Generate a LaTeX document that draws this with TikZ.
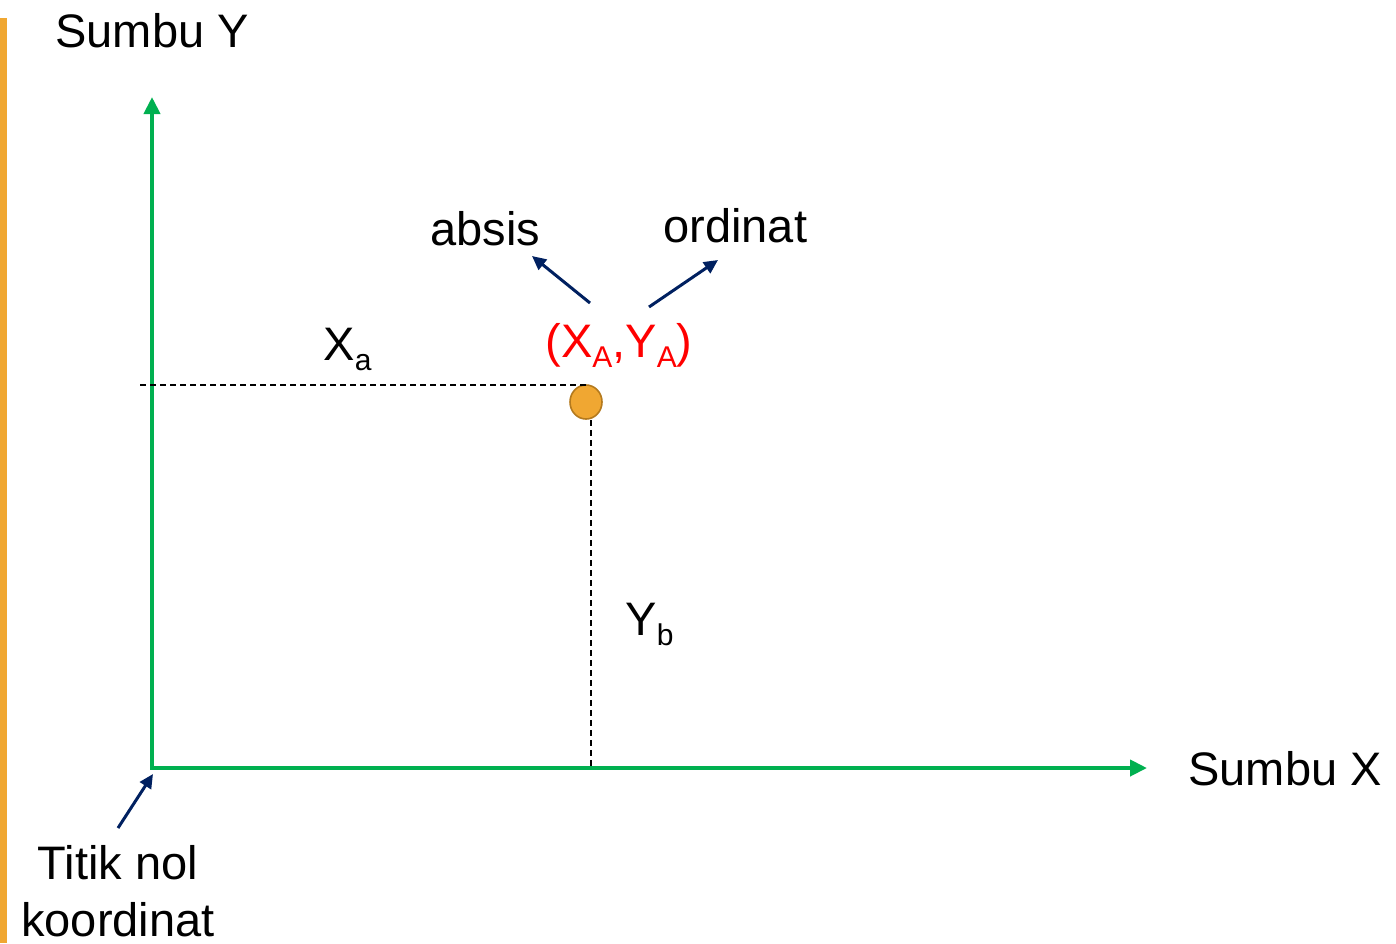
\documentclass[tikz,border=0pt]{standalone}
\usepackage{fontspec}
\setmainfont{Liberation Sans}
\usepackage{xcolor}
\usepackage{tikz}
\usetikzlibrary{arrows.meta,shapes.geometric}
\definecolor{axisgreen}{HTML}{00B050}
\definecolor{navy}{HTML}{002060}
\definecolor{barorange}{HTML}{F0A732}
\definecolor{dotedge}{HTML}{B47A1E}
\newcommand{\lowsub}[1]{\raisebox{-0.23em}{\fontsize{15}{15}\selectfont #1}}

\begin{document}
\begin{tikzpicture}[x=0.5pt,y=-0.5pt,
lbl/.style={inner sep=0,anchor=base west,font=\fontsize{23.5}{28.5}\selectfont},
axis/.style={axisgreen,line width=2pt,{Triangle[length=8.5pt,width=8pt]}-{Triangle[length=8.5pt,width=8pt]}},
pointer/.style={navy,line width=1.5pt,-{Triangle[length=7pt,width=6.5pt]}},
guide/.style={dash pattern=on 3pt off 2pt,line width=0.7pt}]
\useasboundingbox (0,0) rectangle (1396,943);
\fill[barorange](0,18)rectangle(7,943);
\coordinate (O) at (152,768);
\coordinate (Ytip) at (152,97);
\coordinate (Xtip) at (1147,768);
\draw[axis](Ytip)--(O)--(Xtip);
\node[lbl] (sumbuY) at (55,47) {Sumbu Y};
\node[lbl] (sumbuX) at (1188,785) {Sumbu X};
\node[lbl] (absis) at (430,245) {absis};
\node[lbl] (ordinat) at (663,242) {ordinat};
\node[lbl,red] (titikA) at (545,357) {(X\lowsub{A},Y\lowsub{A})};
\node[lbl] (Xa) at (323,360) {X\lowsub{a}};
\node[lbl] (Yb) at (625,635) {Y\lowsub{b}};
\node[inner sep=0,anchor=north,align=center,font=\fontsize{23.5}{28.5}\selectfont] (titikNol) at (118,845) {Titik nol\\koordinat};
\node[ellipse,draw=dotedge,fill=barorange,line width=0.8pt,minimum width=16pt,minimum height=17pt,inner sep=0] (ptA) at (586,402) {};
\coordinate (Xstart) at (140,385);
\coordinate (Yfoot) at (591,768);
\draw[guide](Xstart)--(Xstart -| ptA.north);
\draw[guide](ptA.south -| Yfoot)--(Yfoot);
\coordinate (absisFrom) at (590,303);
\coordinate (absisTo) at (532,256);
\coordinate (ordFrom) at (649,307);
\coordinate (ordTo) at (718,260);
\coordinate (nolFrom) at (118,828);
\coordinate (nolTo) at (153,774);
\draw[pointer](absisFrom)--(absisTo);
\draw[pointer](ordFrom)--(ordTo);
\draw[pointer](nolFrom)--(nolTo);
\end{tikzpicture}
\end{document}
